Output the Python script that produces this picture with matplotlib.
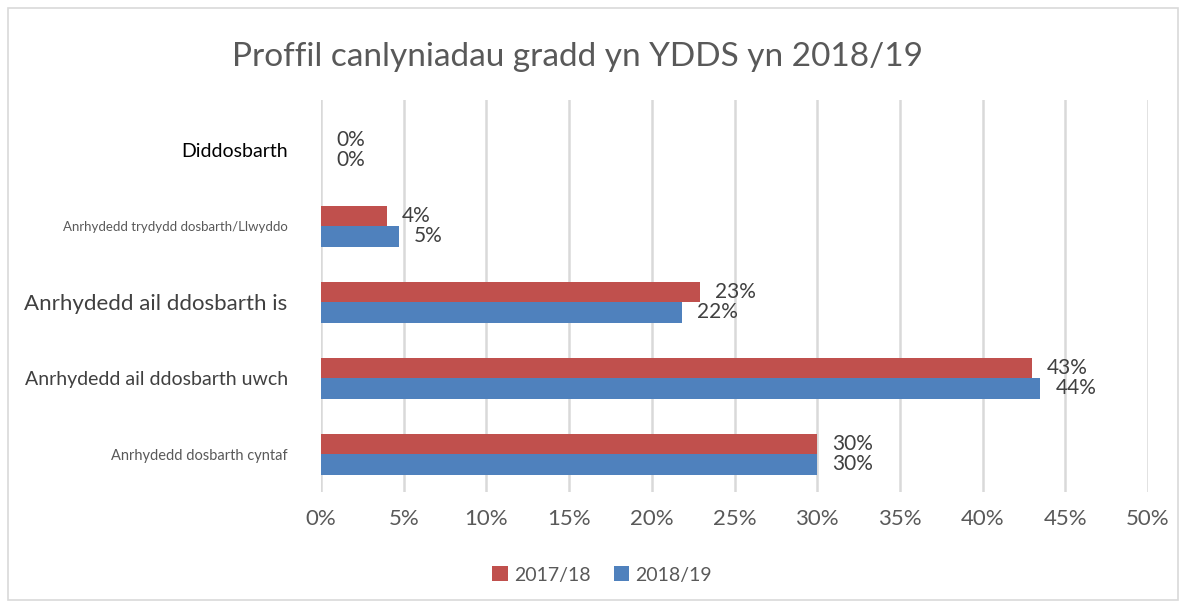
import matplotlib
matplotlib.use("Agg")
import matplotlib.pyplot as plt
from matplotlib.patches import Rectangle

categories = ["Anrhydedd dosbarth cyntaf", "Anrhydedd ail ddosbarth uwch",
              "Anrhydedd ail ddosbarth is", "Anrhydedd trydydd dosbarth/Llwyddo",
              "Diddosbarth"]
series_names = ["2017/18", "2018/19"]
values_2017 = [30.0, 43.0, 22.9, 4.0, 0.0]
values_2018 = [30.0, 43.5, 21.8, 4.7, 0.0]
xticks = [0, 5, 10, 15, 20, 25, 30, 35, 40, 45, 50]
title = "Proffil canlyniadau gradd yn YDDS yn 2018/19"

# per-category label styles (as in the original, sizes differ)
cat_sizes = [10.5, 14, 16, 9.5, 14]
cat_colors = ["#595959", "#404040", "#404040", "#595959", "#000000"]

RED = "#C0504D"
BLUE = "#4F81BD"
plt.rcParams['font.family'] = ['Lato', 'DejaVu Sans']

fig = plt.figure(figsize=(11.86, 6.05), dpi=100)
fig.patches.append(Rectangle((8/1186, 5/605), 1170/1186, 592/605, transform=fig.transFigure,
                             fill=False, edgecolor="#d9d9d9", linewidth=1.2))
ax = fig.add_axes([321/1186, 1 - 492/605, 827/1186, 392/605])

h = 0.27
ys = list(range(len(categories)))
b1 = ax.barh([y + h/2 for y in ys], values_2017, height=h, color=RED, label=series_names[0], zorder=3)
b2 = ax.barh([y - h/2 for y in ys], values_2018, height=h, color=BLUE, label=series_names[1], zorder=3)

for bars, vals in ((b1, values_2017), (b2, values_2018)):
    for bar, v in zip(bars, vals):
        ax.annotate(f"{round(v):d}%", (bar.get_width(), bar.get_y() + bar.get_height()/2),
                    xytext=(15, 0), textcoords="offset pixels",
                    va="center", ha="left", fontsize=15, color="#404040", zorder=4)

ax.set_xlim(0, 50)
ax.set_ylim(-0.5, 4.66)
ax.set_xticks(xticks)
ax.set_xticklabels([f"{t}%" for t in xticks], fontsize=16, color="#595959")
ax.tick_params(axis="x", length=0, pad=12)
ax.set_yticks(ys)
ax.set_yticklabels(categories)
for lbl, s, c in zip(ax.get_yticklabels(), cat_sizes, cat_colors):
    lbl.set_fontsize(s)
    lbl.set_color(c)
ax.tick_params(axis="y", length=0, pad=24)
ax.grid(axis="x", color="#d9d9d9", linewidth=1.8, zorder=0)
ax.set_axisbelow(True)
for sp in ax.spines.values():
    sp.set_visible(False)

fig.text(577/1186, 1 - 57/605, title, ha="center", va="center", fontsize=24, color="#595959")

leg = fig.legend(handles=[b1, b2], loc="center", bbox_to_anchor=(602/1186, 1 - 575/605),
                 ncol=2, frameon=False, fontsize=14, handlelength=0.8, handleheight=0.8,
                 handletextpad=0.3, columnspacing=1.2)
for t in leg.get_texts():
    t.set_color("#595959")

fig.savefig("out.png", dpi=100)
